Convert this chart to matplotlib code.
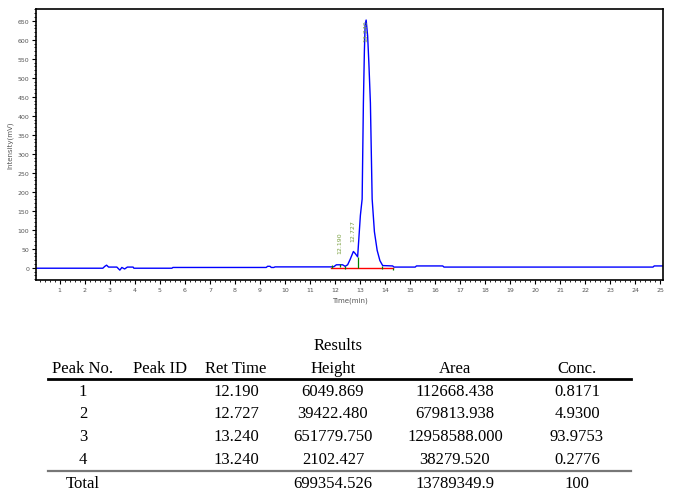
import matplotlib.pyplot as plt
from matplotlib.ticker import MultipleLocator

# chromatogram trace (time in min, intensity in mV)
time = [0, 2.72, 2.8, 2.87, 2.95, 3.0, 3.28, 3.4, 3.48, 3.59, 3.7, 3.93, 3.96,
        5.48, 5.52, 9.25, 9.3, 9.4, 9.45, 9.55, 9.6, 11.8, 11.95, 12.05, 12.3,
        12.4, 12.5, 12.6, 12.73, 12.8, 12.9, 13.01, 13.08, 13.13, 13.17, 13.2,
        13.24, 13.3, 13.35, 13.41, 13.48, 13.57, 13.68, 13.79, 13.9, 14.3,
        14.35, 15.2, 15.25, 16.3, 16.35, 24.7, 24.75, 25.2]
intensity = [-1, -1, 4, 7, 2, 2, 2, -6, 1, -3, 2, 2, -1,
             -1, 1, 1, 4, 4, 1, 1, 2.5, 2.5, 3, 8, 8,
             4, 8, 22, 43, 38, 29, 138, 181, 434, 571, 640,
             652, 610, 537, 434, 181, 95, 46, 19, 6, 5,
             2, 2, 5, 5, 2, 2, 5, 5]

# integration
baseline_start, baseline_end = 11.85, 14.3
marker_times = [11.87, 12.21, 12.41, 12.93, 13.89, 14.33]
marker_lo = [0, 2, -3, 0, -3, -5]
marker_hi = [8, 10, 5, 29, 5, 0]
peak_rt = [12.190, 12.727, 13.240]
peak_lbl = ['12.190', '12.727', '13.240']
peak_lbl_y = [40, 70, 655]

# results table
headers = ['Peak No.', 'Peak ID', 'Ret Time', 'Height', 'Area', 'Conc.']
peak_no = ['1', '2', '3', '4']
ret_time = ['12.190', '12.727', '13.240', '13.240']
heights = ['6049.869', '39422.480', '651779.750', '2102.427']
areas = ['112668.438', '679813.938', '12958588.000', '38279.520']
conc = ['0.8171', '4.9300', '93.9753', '0.2776']
totals = ['Total', '', '', '699354.526', '13789349.9', '100']

W, H = 691, 502
fig = plt.figure(figsize=(W / 100, H / 100), dpi=100)
ax = fig.add_axes([36 / W, 1 - 281 / H, (663 - 36) / W, (281 - 10) / H])

ax.plot(time, intensity, color='#0000ff', lw=1.0)
ax.plot([baseline_start, baseline_end], [0, 0], color='#ff0000', lw=1.0)
ax.vlines(marker_times, marker_lo, marker_hi, color='#008000', lw=0.9)
for rt, lbl, yy in zip(peak_rt, peak_lbl, peak_lbl_y):
    ax.text(rt, yy, lbl, rotation=90, ha='center', va='bottom' if yy < 600 else 'top',
            fontsize=4.5, color='#7aa040')

ax.set_xlim(0.05, 25.1)
ax.set_ylim(-32, 681)
ax.xaxis.set_major_locator(MultipleLocator(1))
ax.xaxis.set_minor_locator(MultipleLocator(0.2))
ax.yaxis.set_major_locator(MultipleLocator(50))
ax.yaxis.set_minor_locator(MultipleLocator(10))
ax.set_xticks(range(1, 26))
ax.tick_params(which='major', length=3, width=0.8, labelsize=4.5, labelcolor='#555555', pad=2)
ax.tick_params(which='minor', length=1.5, width=0.6)
for s in ax.spines.values():
    s.set_linewidth(1.2)
ax.set_xlabel('Time(min)', fontsize=5, color='#555555', labelpad=3)
ax.set_ylabel('Intensity(mV)', fontsize=5, color='#555555', labelpad=3)

# table
serif = 'Liberation Serif'
cols = [83, 160, 236, 333, 455, 577]
fs = 12
def fy(py):
    return 1 - py / H

fig.text(338 / W, fy(346), 'Results', ha='center', va='center', fontsize=fs, family=serif)
for cx, h in zip(cols, headers):
    fig.text(cx / W, fy(369), h, ha='center', va='center', fontsize=fs, family=serif)
fig.add_artist(plt.Line2D([48 / W, 631 / W], [fy(380), fy(380)], color='black', lw=2))
rows_y = [392, 414, 437, 460]
for i, ry in enumerate(rows_y):
    vals = [peak_no[i], '', ret_time[i], heights[i], areas[i], conc[i]]
    for cx, v in zip(cols, vals):
        fig.text(cx / W, fy(ry), v, ha='center', va='center', fontsize=fs, family=serif)
fig.add_artist(plt.Line2D([48 / W, 631 / W], [fy(472), fy(472)], color='#777777', lw=1.6))
for cx, v in zip(cols, totals):
    fig.text(cx / W, fy(484), v, ha='center', va='center', fontsize=fs, family=serif)

fig.savefig('out.png', dpi=100)
